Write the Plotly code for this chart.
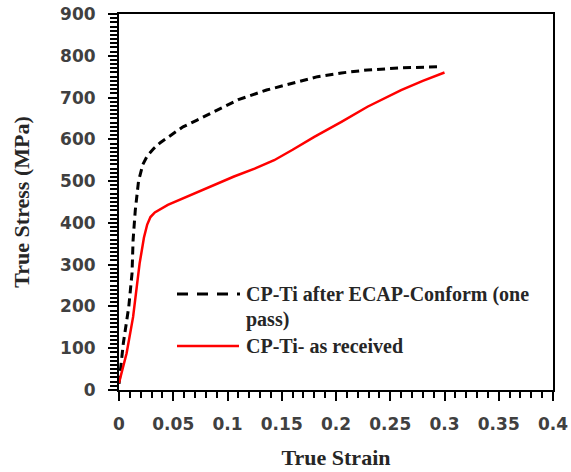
import plotly.graph_objects as go

# ---- data ----
strain_ecap = [0, 0.004, 0.009, 0.012, 0.013, 0.015, 0.018, 0.022, 0.026, 0.032, 0.038,
               0.05, 0.059, 0.072, 0.09, 0.11, 0.136, 0.16, 0.183, 0.205, 0.229, 0.26, 0.295]
stress_ecap = [15, 112, 199, 279, 359, 430, 500, 540, 560, 578, 592,
               614, 630, 646, 670, 695, 718, 735, 750, 759, 766, 771, 774]

strain_ar = [0, 0.007, 0.013, 0.019, 0.023, 0.026, 0.029, 0.033, 0.045, 0.059, 0.08, 0.106,
             0.125, 0.143, 0.16, 0.18, 0.205, 0.229, 0.26, 0.28, 0.3]
stress_ar = [17, 88, 175, 303, 365, 396, 414, 425, 443, 459, 483, 511,
             530, 550, 575, 606, 642, 678, 718, 740, 760]

label_ecap = "CP-Ti after ECAP-Conform (one"
label_ecap2 = "pass)"
label_ar = "CP-Ti- as received"

x_range = [0, 0.4]
y_range = [0, 900]

W, H = 571, 472
L, R, T, B = 119, 553, 14, 390

def px(x):
    return (x - L) / (R - L)

def py(y):
    return (B - y) / (B - T)

fig = go.Figure()
fig.add_trace(go.Scatter(x=strain_ecap, y=stress_ecap, mode="lines",
                         line=dict(color="black", width=3, dash="8px,5px"),
                         showlegend=False))
fig.add_trace(go.Scatter(x=strain_ar, y=stress_ar, mode="lines",
                         line=dict(color="#ff0000", width=2.5),
                         showlegend=False))

tickfont = dict(family="DejaVu Sans", size=17, color="#404040", weight="bold")
titlefont = dict(family="Liberation Serif", size=22, color="#262626")

fig.update_xaxes(range=x_range, dtick=0.05, automargin=False,
                 showgrid=False, zeroline=False, showline=True, linecolor="black",
                 linewidth=2, mirror=True, ticks="outside", ticklen=9, tickwidth=2,
                 tickcolor="black", ticklabelstandoff=9,
                 minor=dict(dtick=0.01, ticks="outside", ticklen=6, tickwidth=1.5,
                            tickcolor="black"),
                 tickfont=tickfont,
                 title=dict(text="<b>True Strain</b>", font=titlefont, standoff=16))
fig.update_yaxes(range=y_range, dtick=100, automargin=False,
                 showgrid=False, zeroline=False, showline=True, linecolor="black",
                 linewidth=2, mirror=True, ticks="outside", ticklen=9, tickwidth=2,
                 tickcolor="black", ticklabelstandoff=9,
                 minor=dict(dtick=10, ticks="outside", ticklen=7, tickwidth=1.5,
                            tickcolor="black"),
                 tickfont=tickfont,
                 title=dict(text="<b>True Stress (MPa)</b>", font=titlefont, standoff=24))

# manual legend
legfont = dict(family="Liberation Serif", size=20, color="#262626")
shapes = [
    dict(type="line", xref="paper", yref="paper", x0=px(177), x1=px(240),
         y0=py(294), y1=py(294), line=dict(color="black", width=3, dash="11px,9px")),
    dict(type="line", xref="paper", yref="paper", x0=px(177), x1=px(239),
         y0=py(346), y1=py(346), line=dict(color="#ff0000", width=2.5)),
]
annotations = [
    dict(xref="paper", yref="paper", x=px(244), y=py(294), text="<b>" + label_ecap + "</b>",
         showarrow=False, xanchor="left", yanchor="middle", font=legfont),
    dict(xref="paper", yref="paper", x=px(244), y=py(319), text="<b>" + label_ecap2 + "</b>",
         showarrow=False, xanchor="left", yanchor="middle", font=legfont),
    dict(xref="paper", yref="paper", x=px(244), y=py(346), text="<b>" + label_ar + "</b>",
         showarrow=False, xanchor="left", yanchor="middle", font=legfont),
]

fig.update_layout(width=W, height=H, margin=dict(l=L, r=W - R, t=T, b=H - B, autoexpand=False),
                  paper_bgcolor="white", plot_bgcolor="white",
                  shapes=shapes, annotations=annotations, showlegend=False)

fig.write_html("out.html")
